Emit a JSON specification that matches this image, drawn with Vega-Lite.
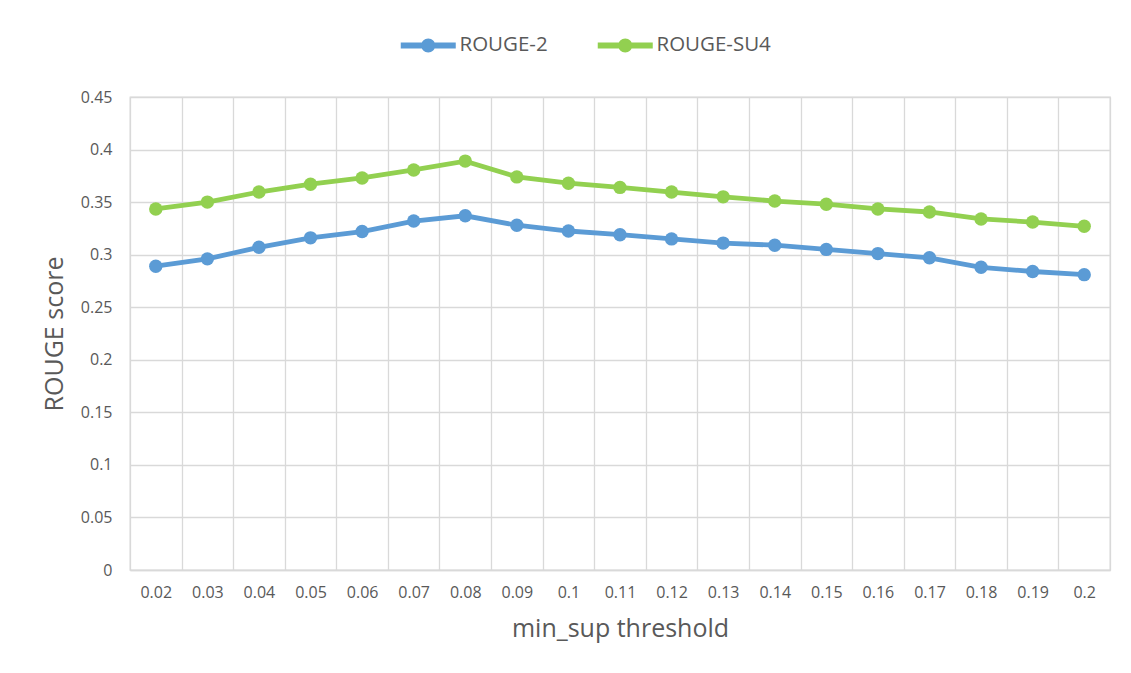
{
  "$schema": "https://vega.github.io/schema/vega-lite/v6.json",
  "autosize": {"type": "none"},
  "padding": {"left": 130, "top": 97, "right": 21, "bottom": 103},
  "width": 980,
  "height": 473,
  "background": "white",
  "config": {
    "font": "Open Sans",
    "view": {"stroke": "#d9d9d9", "strokeWidth": 1.3},
    "axis": {"labelColor": "#595959", "titleColor": "#595959", "labelFontSize": 16, "titleFontSize": 25, "titleFontWeight": "normal", "gridColor": "#d9d9d9", "gridWidth": 1.3, "domainColor": "#d9d9d9", "domainWidth": 1.3, "ticks": false, "labelFont": "Open Sans", "titleFont": "Open Sans"}
  },
  "data": {"values": [
    {"threshold": "0.02", "series": "ROUGE-2", "score": 0.289},
    {"threshold": "0.03", "series": "ROUGE-2", "score": 0.296},
    {"threshold": "0.04", "series": "ROUGE-2", "score": 0.307},
    {"threshold": "0.05", "series": "ROUGE-2", "score": 0.316},
    {"threshold": "0.06", "series": "ROUGE-2", "score": 0.322},
    {"threshold": "0.07", "series": "ROUGE-2", "score": 0.332},
    {"threshold": "0.08", "series": "ROUGE-2", "score": 0.337},
    {"threshold": "0.09", "series": "ROUGE-2", "score": 0.328},
    {"threshold": "0.1", "series": "ROUGE-2", "score": 0.3225},
    {"threshold": "0.11", "series": "ROUGE-2", "score": 0.319},
    {"threshold": "0.12", "series": "ROUGE-2", "score": 0.315},
    {"threshold": "0.13", "series": "ROUGE-2", "score": 0.311},
    {"threshold": "0.14", "series": "ROUGE-2", "score": 0.309},
    {"threshold": "0.15", "series": "ROUGE-2", "score": 0.305},
    {"threshold": "0.16", "series": "ROUGE-2", "score": 0.301},
    {"threshold": "0.17", "series": "ROUGE-2", "score": 0.297},
    {"threshold": "0.18", "series": "ROUGE-2", "score": 0.288},
    {"threshold": "0.19", "series": "ROUGE-2", "score": 0.284},
    {"threshold": "0.2", "series": "ROUGE-2", "score": 0.281},
    {"threshold": "0.02", "series": "ROUGE-SU4", "score": 0.3435},
    {"threshold": "0.03", "series": "ROUGE-SU4", "score": 0.350},
    {"threshold": "0.04", "series": "ROUGE-SU4", "score": 0.3596},
    {"threshold": "0.05", "series": "ROUGE-SU4", "score": 0.367},
    {"threshold": "0.06", "series": "ROUGE-SU4", "score": 0.373},
    {"threshold": "0.07", "series": "ROUGE-SU4", "score": 0.3806},
    {"threshold": "0.08", "series": "ROUGE-SU4", "score": 0.389},
    {"threshold": "0.09", "series": "ROUGE-SU4", "score": 0.374},
    {"threshold": "0.1", "series": "ROUGE-SU4", "score": 0.368},
    {"threshold": "0.11", "series": "ROUGE-SU4", "score": 0.364},
    {"threshold": "0.12", "series": "ROUGE-SU4", "score": 0.3596},
    {"threshold": "0.13", "series": "ROUGE-SU4", "score": 0.355},
    {"threshold": "0.14", "series": "ROUGE-SU4", "score": 0.351},
    {"threshold": "0.15", "series": "ROUGE-SU4", "score": 0.348},
    {"threshold": "0.16", "series": "ROUGE-SU4", "score": 0.3435},
    {"threshold": "0.17", "series": "ROUGE-SU4", "score": 0.3406},
    {"threshold": "0.18", "series": "ROUGE-SU4", "score": 0.334},
    {"threshold": "0.19", "series": "ROUGE-SU4", "score": 0.331},
    {"threshold": "0.2", "series": "ROUGE-SU4", "score": 0.327}
  ]},
  "mark": {"type": "line", "strokeWidth": 4.8, "point": {"filled": true, "size": 180, "opacity": 1}},
  "encoding": {
    "x": {
      "field": "threshold", "type": "ordinal", "sort": null,
      "scale": {"type": "band", "paddingInner": 0, "paddingOuter": 0},
      "axis": {"title": "min_sup threshold", "labelAngle": 0, "labelPadding": 14, "titlePadding": 16, "grid": true, "tickBand": "extent", "domain": true}
    },
    "y": {
      "field": "score", "type": "quantitative",
      "scale": {"domain": [0, 0.45], "nice": false},
      "axis": {"title": "ROUGE score", "values": [0, 0.05, 0.1, 0.15, 0.2, 0.25, 0.3, 0.35, 0.4, 0.45], "format": "~g", "labelPadding": 18, "titlePadding": 13, "grid": true, "domain": false}
    },
    "color": {
      "field": "series", "type": "nominal",
      "scale": {"domain": ["ROUGE-2", "ROUGE-SU4"], "range": ["#5B9BD5", "#92D050"]},
      "legend": {
        "title": null, "orient": "none", "direction": "horizontal", "legendX": 288, "legendY": -62,
        "symbolType": "M-2.75,-0.3H-0.5V0.3H-2.75Z M0.5,-0.3H2.75V0.3H0.5Z M-0.7,0A0.7,0.7,0,1,1,0.7,0A0.7,0.7,0,1,1,-0.7,0Z",
        "symbolSize": 400, "symbolStrokeWidth": 0, "labelFontSize": 20.5, "labelColor": "#595959", "labelFont": "Open Sans",
        "labelOffset": 21, "columnPadding": 49,
        "encode": {"symbols": {"update": {"fill": {"scale": "color", "field": "value"}, "fillOpacity": {"value": 1}, "strokeWidth": {"value": 0}}}}
      }
    }
  }
}
